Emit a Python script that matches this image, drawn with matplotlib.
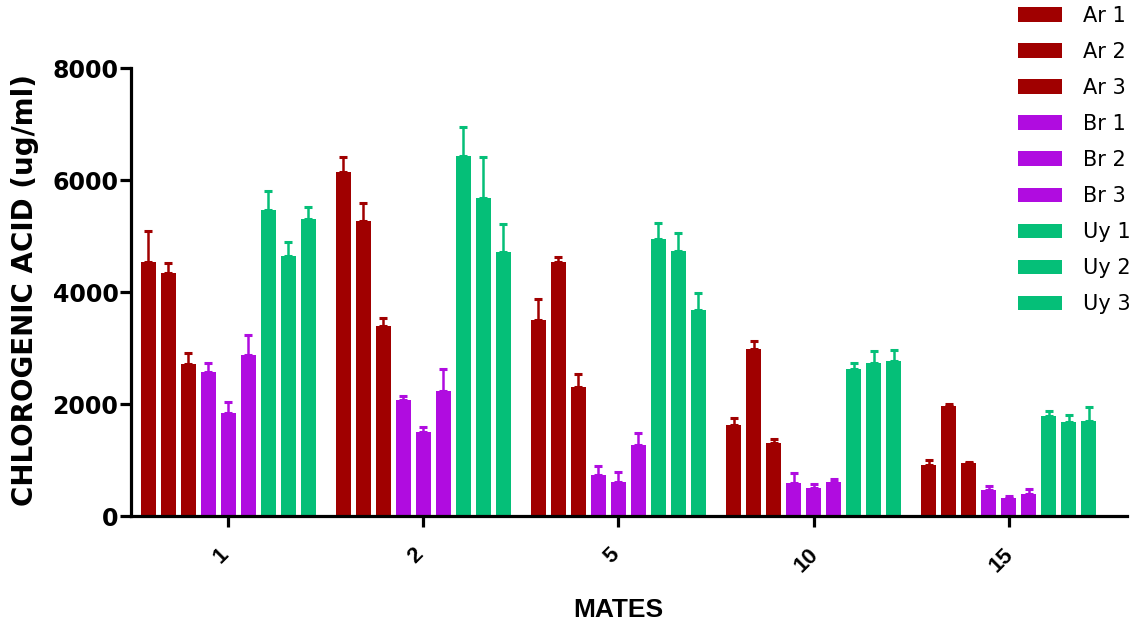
import matplotlib
matplotlib.use("Agg")
import matplotlib.pyplot as plt
import matplotlib.transforms as mtransforms
import numpy as np

plt.rcParams['font.family'] = ['Liberation Sans', 'DejaVu Sans']

mates = ['1', '2', '5', '10', '15']
series = ['Ar 1', 'Ar 2', 'Ar 3', 'Br 1', 'Br 2', 'Br 3', 'Uy 1', 'Uy 2', 'Uy 3']
colors = ['#a00000'] * 3 + ['#b00ce0'] * 3 + ['#05bf78'] * 3

# mean values per series (rows) for each mate count (columns)
means = [
    [4540, 6150, 3495, 1620, 917],
    [4345, 5260, 4540, 2975, 1958],
    [2710, 3390, 2305, 1310, 940],
    [2570, 2065, 732, 595, 464],
    [1845, 1495, 613, 505, 315],
    [2880, 2240, 1268, 607, 399],
    [5460, 6425, 4940, 2620, 1792],
    [4650, 5685, 4740, 2738, 1685],
    [5300, 4710, 3685, 2762, 1690],
]
# upper error bar tops
tops = [
    [5090, 6405, 3875, 1750, 1006],
    [4510, 5585, 4620, 3120, 1994],
    [2905, 3535, 2535, 1375, 970],
    [2730, 2135, 900, 770, 542],
    [2035, 1590, 780, 577, 363],
    [3225, 2625, 1482, 667, 488],
    [5800, 6945, 5225, 2726, 1875],
    [4890, 6405, 5055, 2940, 1810],
    [5510, 5220, 3990, 2965, 1952],
]

means = np.array(means)
errs = np.array(tops) - means

fig = plt.figure(figsize=(11.38, 6.30), dpi=100)
ax = fig.add_axes([131 / 1138, 114 / 630, 996 / 1138, 448 / 630])

group_step = 9.76
centers = np.arange(len(mates)) * group_step
for j, name in enumerate(series):
    x = centers + (j - 4)
    ax.bar(x, means[j], width=0.75, color=colors[j], label=name,
           edgecolor='none', zorder=2)
    ax.errorbar(x, means[j], yerr=[np.zeros(len(mates)), errs[j]],
                fmt='none', ecolor=colors[j], elinewidth=1.8,
                capsize=3, capthick=2.2, zorder=1)

ax.set_xlim(-4.85, 44.95)
ax.set_ylim(0, 8000)
ax.set_yticks([0, 2000, 4000, 6000, 8000])
ax.set_xticks(centers)
ax.set_xticklabels(mates)
for s in ['top', 'right']:
    ax.spines[s].set_visible(False)
for s in ['left', 'bottom']:
    ax.spines[s].set_linewidth(2.3)
ax.tick_params(axis='both', width=2.3, length=8)
ax.tick_params(axis='y', pad=1)
ax.tick_params(axis='x', pad=12)

shift = mtransforms.ScaledTranslation(-0.07, 0, fig.dpi_scale_trans)
for lab in ax.get_yticklabels():
    lab.set_fontfamily('DejaVu Sans')
    lab.set_fontsize(17)
    lab.set_fontweight('bold')
for lab in ax.get_xticklabels():
    lab.set_fontsize(16)
    lab.set_fontweight('bold')
    lab.set_rotation(45)
    lab.set_ha('center')
    lab.set_va('top')
    lab.set_transform(lab.get_transform() + shift)

ax.set_ylabel('CHLOROGENIC ACID (ug/ml)', fontsize=20, fontweight='bold',
              family='DejaVu Sans')
ax.yaxis.set_label_coords(-0.092, 0.505)
fig.text(618 / 1138, 1 - 610 / 630, 'MATES', fontsize=19, fontweight='bold',
         ha='center', va='center')

ax.legend(loc='upper left', bbox_to_anchor=(1018 / 1138, 1 - 6 / 630),
          bbox_transform=fig.transFigure, frameon=False,
          prop={'family': 'DejaVu Sans', 'size': 15},
          handlelength=2.1, handleheight=0.72, handletextpad=1.0,
          labelspacing=0.77, borderpad=0, borderaxespad=0)

fig.savefig('out.png', dpi=100)
